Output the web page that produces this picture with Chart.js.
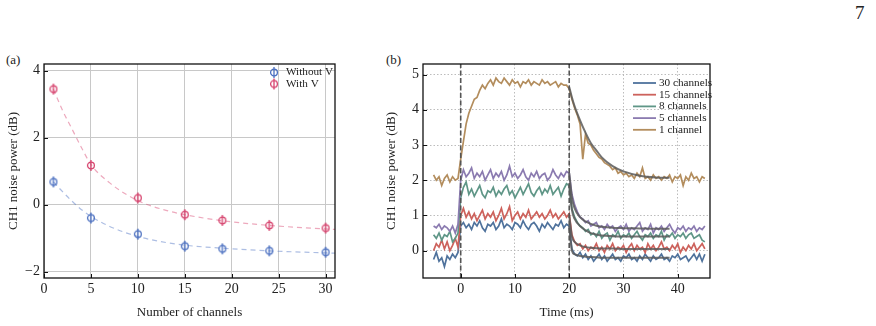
<!DOCTYPE html>
<html>
<head>
<meta charset="utf-8">
<script src="https://cdn.jsdelivr.net/npm/chart.js@4"></script>
<style>
body { margin:0; background:#fff; width:876px; height:326px; overflow:hidden; position:relative; font-family:'Liberation Serif', serif; }
.box { position:absolute; top:0; height:326px; }
.tag { position:absolute; font-size:13px; color:#222; }
</style>
</head>
<body>
<div class="tag" style="left:6px;top:52px">(a)</div>
<div class="tag" style="left:386px;top:52px">(b)</div>
<div class="tag" style="left:855px;top:2px;font-size:19px">7</div>
<div class="box" style="left:0;width:345px"><canvas id="chartA"></canvas></div>
<div class="box" style="left:380px;width:340px"><canvas id="chartB"></canvas></div>
<script>
// ---- panel (a) ----
const channels   = [1, 5, 10, 15, 19, 24, 30];
const withoutV   = [0.68, -0.40, -0.88, -1.24, -1.32, -1.38, -1.42];
const withV      = [3.45, 1.17, 0.20, -0.30, -0.47, -0.62, -0.70];
const fitXA      = [1, 2, 3, 4, 5, 7, 10, 13, 15, 19, 24, 31];
const fitWithoutV = [0.68, 0.38, 0.10, -0.15, -0.35, -0.65, -0.95, -1.13, -1.21, -1.30, -1.38, -1.45];
const fitWithV    = [3.45, 2.80, 2.25, 1.70, 1.20, 0.65, 0.12, -0.17, -0.30, -0.48, -0.62, -0.74];
const xTicksA = [0, 5, 10, 15, 20, 25, 30];
const yTicksA = [-2, 0, 2, 4];

// ---- panel (b) ----  samples every 0.5 ms from -5 ms
const tStart = -5, tStep = 0.5;
const ch30 = [
  -0.25, -0.05, -0.30, -0.20, -0.45, -0.15, -0.25, -0.10, -0.20, -0.05,
  0.70, 0.80, 0.65, 0.75, 0.60, 0.80, 0.70, 0.85, 0.65, 0.55,
  0.75, 0.70, 0.80, 0.60, 0.70, 0.90, 0.65, 0.75, 0.70, 0.60,
  0.80, 0.75, 0.65, 0.85, 0.70, 0.60, 0.75, 0.80, 0.70, 0.55,
  0.75, 0.65, 0.80, 0.70, 0.60, 0.75, 0.70, 0.85, 0.65, 0.75,
  0.70, 0.05, -0.10, -0.15, -0.05, -0.20, -0.10, -0.25, -0.15, -0.30,
  -0.20, -0.10, -0.25, -0.15, -0.30, -0.20, -0.10, -0.25, -0.20, -0.30,
  -0.15, -0.20, -0.10, -0.25, -0.20, -0.30, -0.15, -0.25, -0.10, -0.20,
  -0.30, -0.15, -0.25, -0.20, -0.10, -0.25, -0.20, -0.30, -0.15, -0.20,
  -0.10, -0.25, -0.20, -0.15, -0.30, -0.20, -0.10, -0.25, -0.10, -0.30,
  -0.10
];
const ch15 = [
  0.00, 0.20, 0.10, 0.30, 0.05, 0.25, 0.00, 0.15, 0.35, 0.10,
  1.00, 1.20, 0.95, 1.10, 0.90, 1.05, 0.85, 1.00, 1.15, 0.90,
  1.05, 0.95, 1.10, 0.85, 1.00, 1.20, 0.90, 1.05, 1.25, 0.85,
  1.00, 1.10, 0.90, 1.05, 0.95, 1.15, 0.90, 1.00, 1.10, 0.95,
  1.05, 0.90, 1.00, 1.15, 0.95, 1.05, 0.90, 1.00, 1.10, 0.95,
  1.05, 0.45, 0.25, 0.15, 0.20, 0.05, 0.15, 0.00, 0.10, 0.05,
  0.20, 0.00, 0.10, -0.05, 0.15, 0.05, 0.20, 0.00, 0.10, 0.05,
  0.15, -0.05, 0.10, 0.20, 0.00, 0.15, 0.05, 0.10, -0.05, 0.20,
  0.05, 0.15, 0.00, 0.10, 0.25, 0.05, 0.10, 0.00, 0.15, 0.05,
  0.20, -0.05, 0.10, 0.00, 0.15, 0.05, 0.20, 0.00, 0.10, 0.20,
  0.05
];
const ch8 = [
  0.45, 0.35, 0.50, 0.30, 0.45, 0.40, 0.55, 0.25, 0.35, 0.50,
  1.50, 1.80, 1.95, 1.60, 1.75, 1.55, 1.70, 1.85, 1.60, 1.50,
  1.70, 1.65, 1.80, 1.55, 1.70, 1.60, 1.75, 1.85, 1.60, 1.70,
  1.50, 1.65, 1.80, 1.60, 1.75, 1.90, 1.65, 1.55, 1.70, 1.80,
  1.60, 1.75, 1.65, 1.85, 1.60, 1.70, 1.80, 1.55, 1.75, 1.90,
  1.85, 1.20, 0.95, 0.80, 0.70, 0.65, 0.55, 0.60, 0.45, 0.50,
  0.40, 0.55, 0.35, 0.45, 0.50, 0.30, 0.45, 0.40, 0.55, 0.35,
  0.45, 0.40, 0.50, 0.35, 0.45, 0.55, 0.40, 0.30, 0.45, 0.40,
  0.50, 0.35, 0.45, 0.40, 0.55, 0.30, 0.45, 0.40, 0.50, 0.35,
  0.45, 0.40, 0.50, 0.35, 0.45, 0.50, 0.35, 0.40, 0.45, 0.30,
  0.25
];
const ch5 = [
  0.70, 0.65, 0.75, 0.60, 0.70, 0.65, 0.55, 0.70, 0.50, 0.75,
  2.00, 2.30, 2.10, 2.20, 2.35, 2.05, 2.20, 2.10, 2.25, 2.00,
  2.15, 2.30, 2.05, 2.20, 2.10, 2.25, 2.00, 2.15, 2.40, 2.10,
  2.20, 2.05, 2.15, 2.30, 2.10, 2.00, 2.20, 2.10, 2.25, 2.05,
  2.15, 2.20, 2.00, 2.10, 2.30, 2.15, 2.05, 2.20, 2.10, 2.25,
  2.20, 1.60, 1.30, 1.10, 0.95, 0.90, 0.80, 0.85, 0.70, 0.75,
  0.80, 0.65, 0.70, 0.60, 0.75, 0.65, 0.70, 0.55, 0.65, 0.70,
  0.60, 0.75, 0.55, 0.65, 0.60, 0.70, 0.80, 0.55, 0.65, 0.60,
  0.75, 0.50, 0.65, 0.60, 0.70, 0.55, 0.65, 0.75, 0.60, 0.50,
  0.65, 0.60, 0.70, 0.55, 0.65, 0.60, 0.70, 0.55, 0.65, 0.60,
  0.70
];
const ch1 = [
  2.15, 2.00, 2.10, 1.85, 2.05, 2.15, 1.95, 2.10, 2.00, 2.05,
  2.60, 3.10, 3.60, 3.90, 4.10, 4.30, 4.35, 4.55, 4.70, 4.60,
  4.75, 4.85, 4.70, 4.90, 4.80, 4.75, 4.90, 4.80, 4.70, 4.85,
  4.75, 4.80, 4.65, 4.80, 4.75, 4.85, 4.70, 4.80, 4.75, 4.70,
  4.85, 4.75, 4.80, 4.70, 4.75, 4.80, 4.65, 4.75, 4.70, 4.70,
  4.60, 4.30, 4.05, 3.85, 3.60, 2.60, 3.30, 3.05, 3.00, 2.85,
  2.75, 2.65, 2.60, 2.50, 2.45, 2.40, 2.30, 2.35, 2.20, 2.25,
  2.15, 2.20, 2.10, 2.15, 2.05, 2.20, 2.10, 2.35, 2.05, 2.10,
  2.00, 2.15, 2.05, 2.10, 2.00, 2.10, 2.05, 2.15, 1.95, 2.10,
  2.05, 2.15, 1.85, 2.10, 2.00, 2.20, 2.05, 2.10, 1.95, 2.10,
  2.05
];
// decay fits after switch-off
const fitT   = [20, 20.5, 21, 22, 23, 24, 25, 26, 28, 30, 33, 36, 38.5];
const fit30  = [0.70, 0.00, -0.10, -0.15, -0.17, -0.18, -0.19, -0.20, -0.20, -0.20, -0.20, -0.20, -0.20];
const fit15  = [1.00, 0.40, 0.25, 0.15, 0.10, 0.08, 0.07, 0.06, 0.06, 0.05, 0.05, 0.05, 0.05];
const fit8   = [1.85, 1.15, 0.90, 0.70, 0.58, 0.50, 0.46, 0.43, 0.41, 0.40, 0.40, 0.40, 0.40];
const fit5   = [2.20, 1.50, 1.20, 0.95, 0.83, 0.76, 0.71, 0.68, 0.65, 0.64, 0.63, 0.62, 0.62];
const fit1   = [4.65, 4.35, 4.10, 3.70, 3.35, 3.05, 2.85, 2.65, 2.40, 2.25, 2.13, 2.08, 2.07];
const eventTimes = [0, 20];
const xTicksB = [0, 10, 20, 30, 40];
const yTicksB = [0, 1, 2, 3, 4, 5];

const serif = "'Liberation Serif', 'Times New Roman', serif";
const pairs = (xs, ys) => ys.map((v, i) => ({x: xs[i], y: v}));
const series = ys => ys.map((v, i) => ({x: tStart + i * tStep, y: v}));
const minus = v => String(v).replace('-', '\u2212');

// open circle with error bar, used as point style
function markerImg(color) {
  const c = document.createElement('canvas');
  c.width = 12; c.height = 13;
  const g = c.getContext('2d');
  g.strokeStyle = color; g.lineWidth = 1.3;
  g.beginPath(); g.arc(6, 6.5, 3.4, 0, Math.PI * 2); g.stroke();
  g.beginPath(); g.moveTo(6, 1); g.lineTo(6, 12); g.stroke();
  return c;
}

// frame, inward ticks, event lines, legend
const decor = {
  id: 'decor',
  afterDatasetsDraw(chart, args, o) {
    const {ctx, chartArea: a, scales: {x, y}} = chart;
    ctx.save();
    if (o.events) {
      ctx.strokeStyle = '#555'; ctx.lineWidth = 1.6; ctx.setLineDash([5, 2.5]);
      o.events.forEach(t => {
        const px = x.getPixelForValue(t);
        ctx.beginPath(); ctx.moveTo(px, a.bottom); ctx.lineTo(px, a.top); ctx.stroke();
      });
      ctx.setLineDash([]);
    }
    ctx.strokeStyle = '#111'; ctx.lineWidth = 1.3;
    ctx.strokeRect(a.left, a.top, a.right - a.left, a.bottom - a.top);
    ctx.lineWidth = 1;
    x.ticks.forEach(t => {
      const px = Math.round(x.getPixelForValue(t.value)) + 0.5;
      ctx.beginPath(); ctx.moveTo(px, a.bottom); ctx.lineTo(px, a.bottom - 4); ctx.stroke();
    });
    y.ticks.forEach(t => {
      const py = Math.round(y.getPixelForValue(t.value)) + 0.5;
      ctx.beginPath(); ctx.moveTo(a.left, py); ctx.lineTo(a.left + 4, py); ctx.stroke();
    });
    // legend
    ctx.font = '11.2px ' + serif;
    ctx.textBaseline = 'middle';
    ctx.fillStyle = '#222';
    let row = 0;
    chart.data.datasets.forEach(ds => {
      if (!ds.legendLabel) return;
      const ly = a.top + o.legendY + row * o.rowH;
      const lx = a.right - o.legendX;
      if (o.kind === 'marker') {
        const img = ds.pointStyle;
        ctx.drawImage(img, lx - img.width / 2, ly - img.height / 2);
        ctx.fillText(ds.legendLabel, lx + 12, ly);
      } else {
        ctx.strokeStyle = ds.borderColor; ctx.lineWidth = 1.8;
        ctx.beginPath(); ctx.moveTo(lx, ly); ctx.lineTo(lx + 23, ly); ctx.stroke();
        ctx.fillText(ds.legendLabel, lx + 26, ly);
      }
      row++;
    });
    ctx.restore();
  }
};

function axis(min, max, tickVals, title, isX, fitSize, titlePad, gridStyle) {
  return {
    type: 'linear', min: min, max: max,
    afterBuildTicks: s => { s.ticks = tickVals.map(v => ({value: v})); },
    afterFit: s => { if (isX) s.height = fitSize; else s.width = fitSize; },
    grid: Object.assign({drawTicks: false}, gridStyle.grid),
    border: Object.assign({display: false}, gridStyle.border),
    ticks: {
      color: '#222', padding: isX ? 3 : 4,
      font: {family: serif, size: 14},
      callback: v => minus(v)
    },
    title: {
      display: true, text: title, color: '#222',
      font: {family: serif, size: 13},
      padding: isX ? {top: 4, bottom: 6} : {top: titlePad, bottom: 0}
    }
  };
}

const solidGrid = {grid: {color: '#c8c8c8', lineWidth: 1}, border: {}};
const dotGrid = {grid: {color: '#b4b4b4', lineWidth: 0.9}, border: {dash: [1.5, 2]}};

const blueA = '#4a6fc0', pinkA = '#d6416c';
new Chart(document.getElementById('chartA'), {
  type: 'line',
  data: {
    datasets: [
      {label: 'Without V', legendLabel: 'Without V', data: pairs(channels, withoutV), showLine: false,
       pointStyle: markerImg(blueA), borderColor: blueA, order: 0},
      {label: 'With V', legendLabel: 'With V', data: pairs(channels, withV), showLine: false,
       pointStyle: markerImg(pinkA), borderColor: pinkA, order: 0},
      {label: 'fit without V', data: pairs(fitXA, fitWithoutV), borderColor: 'rgba(74,111,192,0.45)',
       borderWidth: 1.2, borderDash: [5, 4], pointRadius: 0, cubicInterpolationMode: 'monotone', order: 1},
      {label: 'fit with V', data: pairs(fitXA, fitWithV), borderColor: 'rgba(214,65,108,0.45)',
       borderWidth: 1.2, borderDash: [5, 4], pointRadius: 0, cubicInterpolationMode: 'monotone', order: 1}
    ]
  },
  options: {
    responsive: true, maintainAspectRatio: false, animation: false,
    layout: {padding: {top: 64, right: 10, bottom: 0, left: 0}},
    plugins: {
      legend: {display: false}, tooltip: {enabled: false},
      decor: {kind: 'marker', legendX: 61, legendY: 8.5, rowH: 11.5}
    },
    scales: {
      x: axis(0, 31, xTicksA, 'Number of channels', true, 48, 0, solidGrid),
      y: axis(-2.19, 4.2, yTicksA, 'CH1 noise power (dB)', false, 44, 6, solidGrid)
    }
  },
  plugins: [decor]
});

const lineDs = (label, ys, color, order) => ({
  label: label, legendLabel: label, data: series(ys), borderColor: color,
  borderWidth: 1.7, pointRadius: 0, tension: 0, order: order
});
const fitDs = ys => ({
  data: pairs(fitT, ys), borderColor: 'rgba(90,90,90,0.85)', borderWidth: 2,
  pointRadius: 0, cubicInterpolationMode: 'monotone', order: 0
});

new Chart(document.getElementById('chartB'), {
  type: 'line',
  data: {
    datasets: [
      lineDs('30 channels', ch30, '#4f729c', 5),
      lineDs('15 channels', ch15, '#cd625c', 4),
      lineDs('8 channels', ch8, '#5f9687', 3),
      lineDs('5 channels', ch5, '#8b7bb0', 2),
      lineDs('1 channel', ch1, '#b38d5d', 1),
      fitDs(fit30), fitDs(fit15), fitDs(fit8), fitDs(fit5), fitDs(fit1)
    ]
  },
  options: {
    responsive: true, maintainAspectRatio: false, animation: false,
    layout: {padding: {top: 64, right: 10, bottom: 0, left: 0}},
    plugins: {
      legend: {display: false}, tooltip: {enabled: false},
      decor: {kind: 'line', events: eventTimes, legendX: 77, legendY: 19, rowH: 11.7}
    },
    scales: {
      x: axis(-6.95, 45.95, xTicksB, 'Time (ms)', true, 48, 0, dotGrid),
      y: axis(-0.776, 5.3, yTicksB, 'CH1 noise power (dB)', false, 43, 4, dotGrid)
    }
  },
  plugins: [decor]
});
</script>
</body>
</html>
